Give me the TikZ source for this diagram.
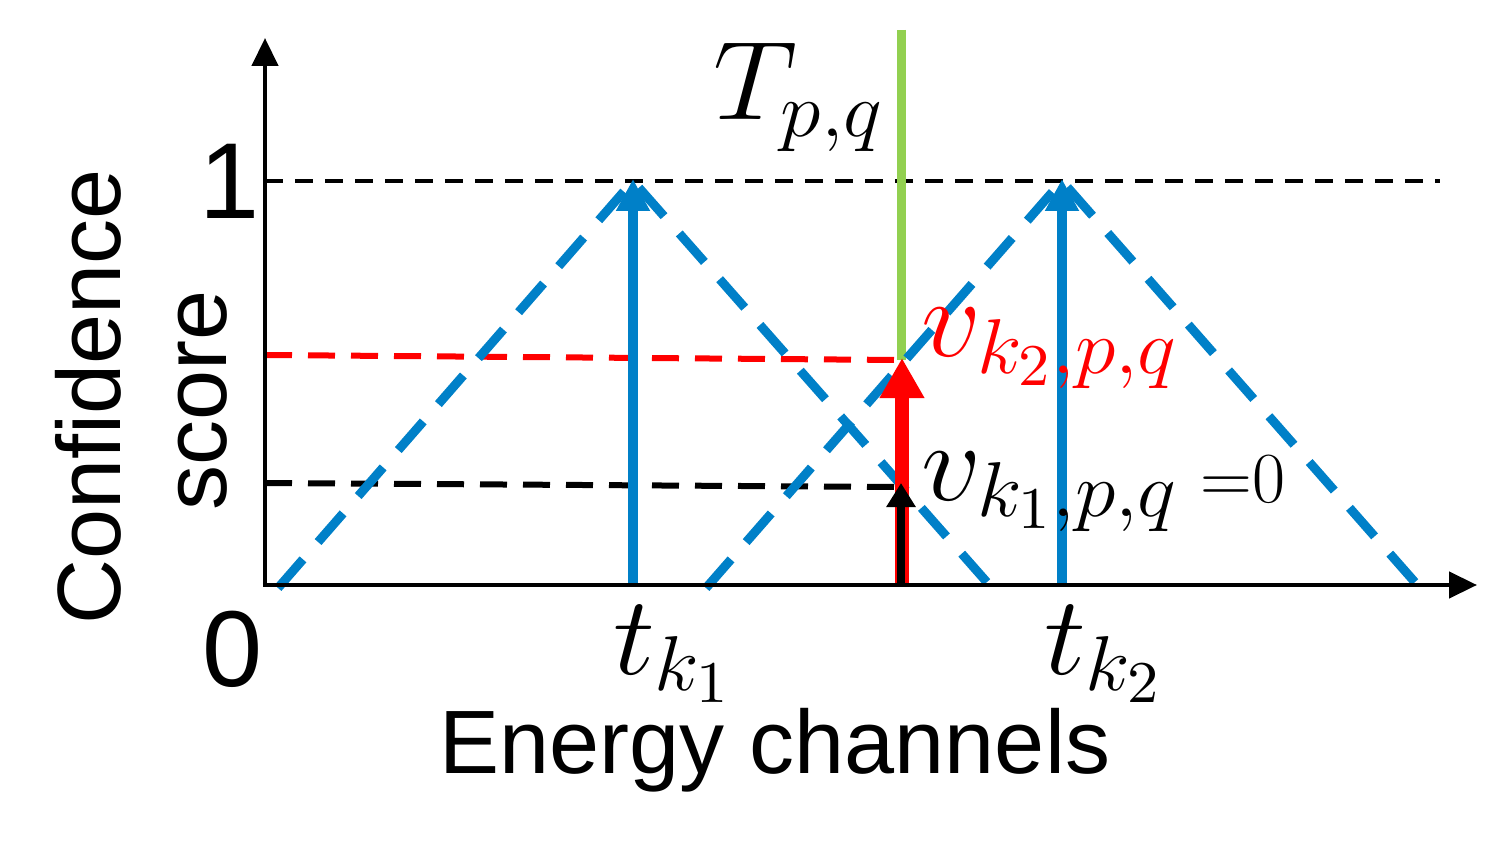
\documentclass[tikz,border=0pt]{standalone}
\usepackage[no-math]{fontspec}
\newfontfamily\arial{Liberation Sans}
\usetikzlibrary{arrows.meta}
\DeclareMathSizes{20.74}{20.74}{14.4}{10.95}
\DeclareMathSizes{17.28}{17.28}{12}{10}
\definecolor{ablue}{RGB}{0,128,200}
\definecolor{agreen}{RGB}{146,208,80}
\tikzset{
  axisline/.style={line width=2.2pt,-{Triangle[length=14pt,width=13pt]}},
  tri/.style={draw=ablue,line width=4.5pt,dash pattern=on 19pt off 11.5pt},
  peakarrow/.style={draw=ablue,line width=5pt,-{Triangle[length=16pt,width=16pt]}},
  levelline/.style={draw=black,line width=2pt,dash pattern=on 9pt off 6pt},
  reddash/.style={draw=red,line width=3pt,dash pattern=on 13.5pt off 8pt},
  blackdash/.style={draw=black,line width=3pt,dash pattern=on 13.5pt off 8pt},
  sanslabel/.style={inner sep=0pt,font=\arial\fontsize{45}{50}\selectfont},
  numlabel/.style={inner sep=0pt,font=\arial\fontsize{54}{58}\selectfont},
  mathlabel/.style={inner sep=0pt,font=\fontsize{20.74}{25}\selectfont,xscale=2.85,yscale=2.7,transform shape},
  eqlabel/.style={inner sep=0pt,font=\fontsize{17.28}{20}\selectfont,scale=2.08,transform shape},
}
\begin{document}
\begin{tikzpicture}[x=0.5pt,y=-0.5pt]
\useasboundingbox (0,0) rectangle (1505,850);
% coordinates
\coordinate (O) at (265,585);
\coordinate (ytop) at (265,38);
\coordinate (xend) at (1477,585);
\coordinate (a1) at (278,588);
\coordinate (p1) at (633,181);
\coordinate (b1) at (992,588);
\coordinate (a2) at (706,588);
\coordinate (p2) at (1062,181);
\coordinate (b2) at (1420,588);
\coordinate (t1b) at (633,585);
\coordinate (t1t) at (633,179);
\coordinate (t2b) at (1062,585);
\coordinate (t2t) at (1062,179);
\coordinate (g0) at (901,30);
\coordinate (g1) at (901,360);
\coordinate (r0) at (902,585);
\coordinate (r1) at (902,358);
\coordinate (k0) at (901,585);
\coordinate (k1) at (901,483);
\coordinate (rd0) at (265,355);
\coordinate (rd1) at (900,360);
\coordinate (bd0) at (265,483);
\coordinate (bd1) at (900,487);
\coordinate (td0) at (265,181);
\coordinate (td1) at (1440,181);
% dashed level lines
\draw[levelline] (td0) -- (td1);
\draw[reddash] (rd0) -- (rd1);
\draw[blackdash] (bd0) -- (bd1);
% green threshold
\draw[agreen,line width=4.5pt] (g0) -- (g1);
% triangles
\draw[tri] (a1) -- (p1) -- (b1);
\draw[tri] (a2) -- (p2) -- (b2);
% peak arrows
\draw[peakarrow] (t1b) -- (t1t);
\draw[peakarrow] (t2b) -- (t2t);
% red and black arrows
\draw[red,line width=7pt,-{Triangle[length=20pt,width=21pt]}] (r0) -- (r1);
\draw[black,line width=4pt,-{Triangle[length=12pt,width=14pt]}] (k0) -- (k1);
% axes
\draw[axisline] (O) -- (ytop);
\draw[axisline] ([xshift=-1.1pt]O) -- (xend);
% labels
\node[sanslabel,rotate=90] (conf) at (88,397) {Confidence};
\node[sanslabel,rotate=90] (score) at (203,400) {score};
\node[numlabel] (one) at (230,181) {1};
\node[numlabel] (zero) at (233,649) {0};
\node[sanslabel,anchor=base] (xl) at (775,773) {Energy channels};
\node[mathlabel,anchor=base west] (T) at (712,120) {$T_{p,q}$};
\node[mathlabel,anchor=base west] (tk1) at (612,674) {$t_{k_1}$};
\node[mathlabel,anchor=base west] (tk2) at (1043,674) {$t_{k_2}$};
\node[mathlabel,anchor=base west,text=red] (v2) at (920,357) {$v_{k_2,p,q}$};
\node[mathlabel,anchor=base west] (v1) at (920,500) {$v_{k_1,p,q}$};
\node[eqlabel,anchor=base west] (eq0) at (1200,502) {$\mathord{=}0$};
\end{tikzpicture}
\end{document}
